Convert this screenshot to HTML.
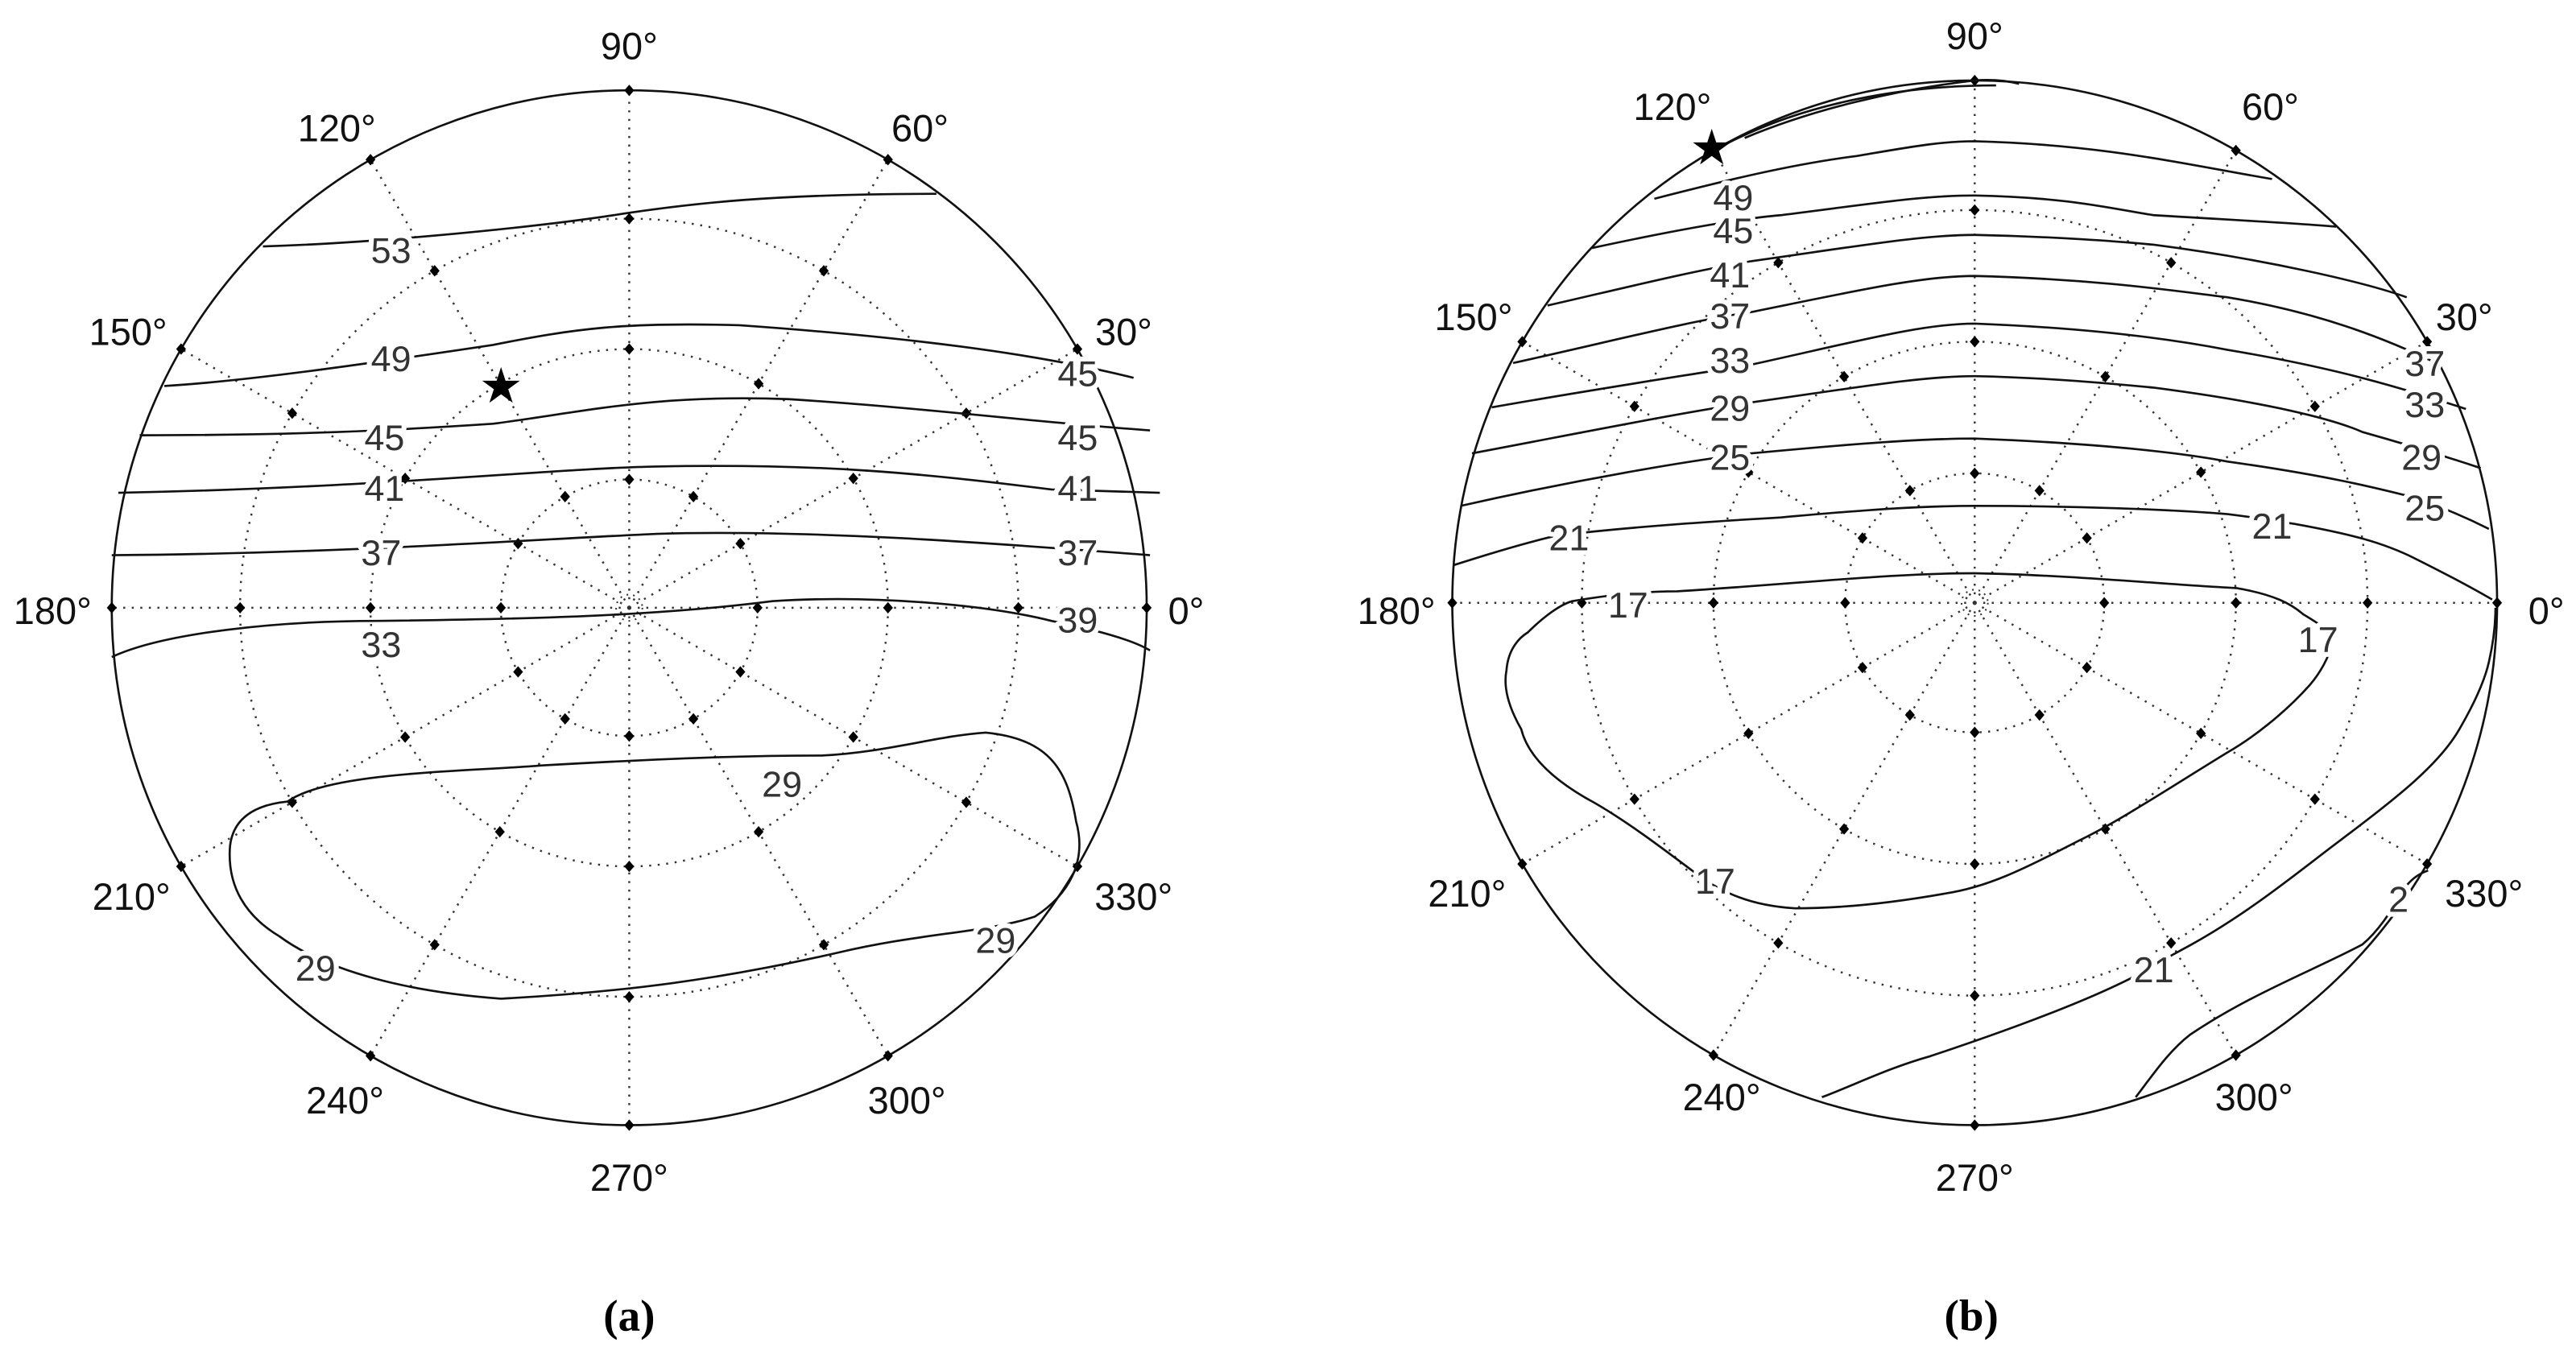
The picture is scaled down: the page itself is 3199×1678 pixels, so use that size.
<!DOCTYPE html>
<html><head><meta charset="utf-8"><style>
html,body{margin:0;padding:0;background:#fff;}
svg{display:block;}
.deg{font-family:"Liberation Sans",sans-serif;font-size:23px;fill:#111;}
.cl{font-family:"Liberation Sans",sans-serif;font-size:22px;fill:#333;stroke:#fff;stroke-width:6;paint-order:stroke;stroke-linejoin:round;}
.ct{fill:none;stroke:#111;stroke-width:1.3;}
.cap{font-family:"Liberation Serif",serif;font-weight:bold;font-size:27px;fill:#000;}
</style></head><body>
<svg id="s" width="3199" height="1678" viewBox="0 0 1568 822.5" xmlns="http://www.w3.org/2000/svg">
<rect width="1568" height="822.5" fill="#fff"/>
<g id="grid"></g>
<g class="ct">
<path d="M160,150 C230,148 330,138 380,130 C420,124 470,118 570,118"/>
<path d="M100,235 C150,232 220,222 300,210 C350,200 380,196 450,198 C550,205 630,215 690,230"/>
<path d="M85,265 C180,265 240,262 300,258 C360,250 400,240 480,243 C560,248 640,258 700,262"/>
<path d="M72,300 C230,297 340,285 400,284 C500,282 560,288 640,298 L706,300"/>
<path d="M68,338 C210,337 330,328 400,325 C500,322 620,332 700,338"/>
<path d="M68,400 C100,385 170,378 230,378 C320,377 400,375 470,366 C530,362 600,368 640,378 C670,384 690,390 700,396"/>
<path d="M175,488 C200,470 280,470 330,466 C400,462 450,460 500,460 C540,458 570,448 600,446 C640,450 650,470 655,500 C662,525 650,545 630,558 C600,568 560,568 510,580 C440,596 380,604 305,608 C250,604 200,592 170,570 C150,558 138,540 140,515 C142,498 155,490 175,488 Z"/>
<text x="305" y="245" font-size="30" text-anchor="middle" fill="#000" stroke="none">★</text>
</g>
<g class="cl" text-anchor="middle">
<text x="238" y="160">53</text>
<text x="238" y="226">49</text>
<text x="234" y="274">45</text>
<text x="234" y="305">41</text>
<text x="232" y="344">37</text>
<text x="232" y="400">33</text>
<text x="656" y="235">45</text>
<text x="656" y="274">45</text>
<text x="656" y="305">41</text>
<text x="656" y="344">37</text>
<text x="656" y="385">39</text>
<text x="476" y="485">29</text>
<text x="192" y="597">29</text>
<text x="606" y="580">29</text>
</g>
<g class="ct">
<path d="M1062,84 C1100,68 1150,55 1202,49 C1215,48 1225,50 1229,51"/>
<path d="M1050,88 C1100,62 1160,52 1215,52"/>
<path d="M1007,121 C1050,110 1090,100 1130,95 C1160,90 1180,86 1202,86 C1280,88 1330,100 1383,109"/>
<path d="M969,151 C1020,140 1060,133 1084,131 C1140,124 1170,119 1202,119 C1260,120 1290,128 1311,131 C1360,134 1400,136 1422,138"/>
<path d="M942,186 C990,175 1030,165 1066,159 C1130,150 1170,143 1202,143 C1250,144 1290,147 1311,149 C1380,158 1440,172 1465,181"/>
<path d="M921,221 C980,208 1030,195 1066,190 C1130,177 1170,168 1202,168 C1280,170 1330,178 1356,181 C1410,190 1450,205 1485,222"/>
<path d="M908,248 C970,237 1030,228 1066,222 C1130,208 1170,197 1202,197 C1280,200 1330,208 1356,213 C1410,222 1450,232 1501,249"/>
<path d="M896,276 C970,262 1030,250 1066,245 C1130,236 1170,229 1202,229 C1250,230 1290,234 1311,236 C1380,245 1420,255 1438,263 C1470,272 1495,280 1510,285"/>
<path d="M889,308 C960,292 1030,280 1066,276 C1130,270 1170,267 1202,267 C1280,270 1330,276 1356,281 C1420,290 1450,298 1470,303 C1490,310 1505,317 1515,322"/>
<path d="M885,344 C910,336 930,330 948,326 C1000,320 1050,317 1084,315 C1140,310 1170,308 1202,308 C1260,308 1320,310 1356,313 C1380,316 1390,318 1397,319 C1430,325 1450,330 1470,340 C1490,350 1505,358 1517,365"/>
<path d="M957,366 C980,362 1000,360 1021,360 C1100,355 1150,349 1202,349 C1260,350 1320,356 1361,358 C1385,362 1395,368 1402,374 C1412,380 1420,385 1420,390 C1418,400 1412,410 1406,417 C1390,435 1370,450 1356,458 C1320,480 1290,500 1265,512 C1230,530 1210,540 1184,544 C1150,550 1120,553 1093,553 C1075,552 1062,548 1053,544 C1040,538 1035,534 1030,530 C1010,515 990,500 971,489 C945,475 930,460 926,444 C918,430 915,418 917,408 C918,395 925,388 930,385 C940,375 950,368 957,366 Z"/>
<path d="M1109,668 C1130,660 1150,650 1175,643 C1220,628 1270,610 1302,593 C1315,585 1325,580 1334,575 C1370,555 1400,530 1424,512 C1460,485 1485,465 1497,444 C1508,425 1513,412 1515,403 C1518,390 1519,380 1519,370"/>
<path d="M1300,668 C1310,655 1320,640 1333,630 C1370,605 1410,590 1438,575 C1450,565 1458,550 1465,539 C1470,533 1475,531 1478,530"/>
<text x="1042" y="100" font-size="30" text-anchor="middle" fill="#000" stroke="none">★</text>
</g>
<g class="cl" text-anchor="middle">
<text x="1055" y="128">49</text>
<text x="1055" y="148">45</text>
<text x="1053" y="175">41</text>
<text x="1053" y="200">37</text>
<text x="1053" y="227">33</text>
<text x="1053" y="256">29</text>
<text x="1053" y="286">25</text>
<text x="955" y="335">21</text>
<text x="991" y="376">17</text>
<text x="1476" y="229">37</text>
<text x="1476" y="254">33</text>
<text x="1474" y="286">29</text>
<text x="1476" y="317">25</text>
<text x="1383" y="328">21</text>
<text x="1411" y="397">17</text>
<text x="1044" y="544">17</text>
<text x="1311" y="598">21</text>
<text x="1460" y="555">2</text>
</g>
<g class="deg" text-anchor="middle">
<text x="383" y="36">90°</text><text x="205" y="86">120°</text><text x="560" y="86">60°</text>
<text x="78" y="210">150°</text><text x="684" y="210">30°</text>
<text x="32" y="380">180°</text><text x="722" y="380">0°</text>
<text x="80" y="554">210°</text><text x="690" y="554">330°</text>
<text x="210" y="678">240°</text><text x="552" y="678">300°</text><text x="383" y="725">270°</text>
<text x="1202" y="30">90°</text><text x="1018" y="73">120°</text><text x="1382" y="73">60°</text>
<text x="897" y="201">150°</text><text x="1500" y="201">30°</text>
<text x="850" y="380">180°</text><text x="1550" y="380">0°</text>
<text x="893" y="552">210°</text><text x="1512" y="552">330°</text>
<text x="1048" y="676">240°</text><text x="1372" y="676">300°</text><text x="1202" y="725">270°</text>
</g>
<g class="cap" text-anchor="middle">
<text x="383" y="810">(a)</text><text x="1200" y="810">(b)</text>
</g>
</svg>
<script>
(function(){
var g=document.getElementById('grid'),h='';
function plot(cx,cy,R){
 var rs=[R*0.248,R*0.5,R*0.752];
 h+='<circle cx="'+cx+'" cy="'+cy+'" r="'+R+'" fill="none" stroke="#111" stroke-width="1.3"/>';
 rs.forEach(function(r){h+='<circle cx="'+cx+'" cy="'+cy+'" r="'+r+'" fill="none" stroke="#333" stroke-width="1.2" stroke-dasharray="1.2 4"/>';});
 h+='<circle cx="'+cx+'" cy="'+cy+'" r="8" fill="none" stroke="#333" stroke-width="1" stroke-dasharray="1 3"/>';
 for(var a=0;a<360;a+=30){
  var t=a*Math.PI/180,c=Math.cos(t),s=-Math.sin(t);
  h+='<line x1="'+cx+'" y1="'+cy+'" x2="'+(cx+R*c)+'" y2="'+(cy+R*s)+'" stroke="#333" stroke-width="1.2" stroke-dasharray="1.2 4"/>';
  rs.concat([R]).forEach(function(r){
   var x=cx+r*c,y=cy+r*s;
   h+='<polygon points="'+x+','+(y-3.5)+' '+(x+3)+','+y+' '+x+','+(y+3.5)+' '+(x-3)+','+y+'" fill="#000"/>';
  });
 }
}
plot(383,370,315);
plot(1202,367,318);
g.innerHTML=h;
})();
</script>
</body></html>
